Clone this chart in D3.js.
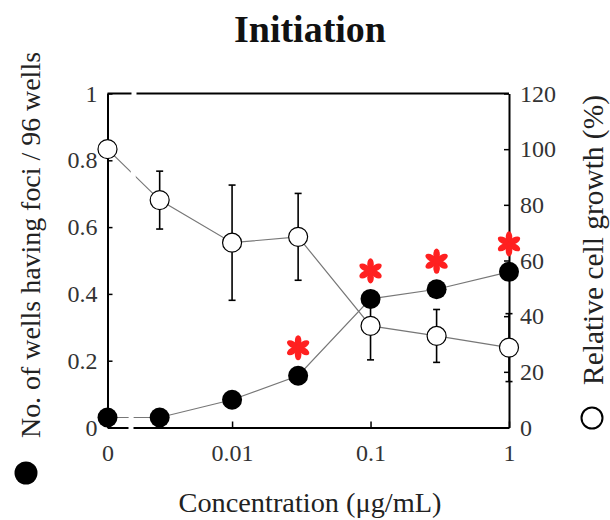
<!DOCTYPE html>
<html>
<head>
<meta charset="utf-8">
<script src="https://cdn.jsdelivr.net/npm/d3@7"></script>
<style>
  html, body { margin: 0; padding: 0; background: #fff; }
  svg { display: block; }
  text { font-family: "Liberation Serif", "Times New Roman", serif; }
</style>
</head>
<body>
<svg id="chart" width="610" height="520"></svg>
<script>
// ---- data ----
const concentrations = [0, 0.003, 0.01, 0.03, 0.1, 0.3, 1];
const fociFraction   = [0.03, 0.03, 0.083, 0.155, 0.385, 0.414, 0.466];
const cellGrowth     = [100, 81.7, 66.4, 68.5, 36.5, 32.9, 28.7];
const growthError    = [0, 10.4, 20.7, 15.6, 12.2, 9.5, 12.2];
const significant    = [false, false, false, true, true, true, true];
const leftTicks      = [0, 0.2, 0.4, 0.6, 0.8, 1];
const leftTickLabels = ["0", "0.2", "0.4", "0.6", "0.8", "1"];
const rightTicks     = [0, 20, 40, 60, 80, 100, 120];
const xTicks         = [0, 0.01, 0.1, 1];
const xTickLabels    = ["0", "0.01", "0.1", "1"];

// ---- layout ----
const L = 107.5, R = 509, T = 93.5, B = 427.5;
const zeroProxy = 0.00126;
const svg = d3.select("#chart");

const x = d3.scaleLog().domain([zeroProxy, 1]).range([L, R]);
const xp = c => x(c === 0 ? zeroProxy : c);
const yL = d3.scaleLinear().domain([0, 1]).range([B, T]);
const yR = d3.scaleLinear().domain([0, 120]).range([B, T]);

// title
svg.append("text").attr("x", 310).attr("y", 42).attr("text-anchor", "middle")
  .attr("font-size", 38).attr("font-weight", "bold").attr("fill", "#111").text("Initiation");

// top border
svg.append("line").attr("x1", L).attr("x2", R).attr("y1", T).attr("y2", T)
  .attr("stroke", "#000").attr("stroke-width", 2);

// axes
const axL = d3.axisLeft(yL).tickValues(leftTicks).tickFormat((d, i) => leftTickLabels[i])
  .tickSizeInner(-5).tickSizeOuter(0).tickPadding(10);
const axR = d3.axisRight(yR).tickValues(rightTicks).tickFormat(d => String(d))
  .tickSizeInner(-5).tickSizeOuter(0).tickPadding(11);
const axB = d3.axisBottom(x).tickValues(xTicks.map(v => v === 0 ? zeroProxy : v))
  .tickFormat((d, i) => xTickLabels[i]).tickSizeInner(-6).tickSizeOuter(0).tickPadding(16);

function styleAxis(g) {
  g.select(".domain").attr("stroke", "#000").attr("stroke-width", 2);
  g.selectAll(".tick line").attr("stroke", "#000").attr("stroke-width", 1.5);
  g.selectAll(".tick text").attr("font-size", 24).attr("fill", "#333");
}
svg.append("g").attr("transform", `translate(${L},0)`).call(axL).call(styleAxis);
svg.append("g").attr("transform", `translate(${R},0)`).call(axR).call(styleAxis);
svg.append("g").attr("transform", `translate(0,${B})`).call(axB).call(styleAxis);

// data rows
const rows = concentrations.map((c, i) => ({
  c, foci: fociFraction[i], growth: cellGrowth[i], err: growthError[i], sig: significant[i]
}));

// connecting lines
const lineFoci = d3.line().x(d => xp(d.c)).y(d => yL(d.foci));
const lineGrowth = d3.line().x(d => xp(d.c)).y(d => yR(d.growth));
svg.append("path").datum(rows).attr("d", lineGrowth).attr("fill", "none")
  .attr("stroke", "#777").attr("stroke-width", 1.2);
svg.append("path").datum(rows).attr("d", lineFoci).attr("fill", "none")
  .attr("stroke", "#777").attr("stroke-width", 1.2);

// error bars
const eb = svg.append("g").attr("stroke", "#000").attr("stroke-width", 1.6);
rows.filter(d => d.err > 0).forEach(d => {
  const cx = xp(d.c), y1 = yR(d.growth + d.err), y2 = yR(d.growth - d.err);
  eb.append("line").attr("x1", cx).attr("x2", cx).attr("y1", y1).attr("y2", y2);
  eb.append("line").attr("x1", cx - 3.5).attr("x2", cx + 3.5).attr("y1", y1).attr("y2", y1);
  eb.append("line").attr("x1", cx - 3.5).attr("x2", cx + 3.5).attr("y1", y2).attr("y2", y2);
});

// axis break
svg.append("polygon")
  .attr("points", `${131.5},${T - 3} ${136.5},${T - 3} ${133.5},${B + 3} ${128.5},${B + 3}`)
  .attr("fill", "#fff");

// markers
svg.append("g").selectAll("circle").data(rows).join("circle")
  .attr("cx", d => xp(d.c)).attr("cy", d => yR(d.growth)).attr("r", 9.5)
  .attr("fill", "#fff").attr("stroke", "#000").attr("stroke-width", 1.2);
svg.append("g").selectAll("circle").data(rows).join("circle")
  .attr("cx", d => xp(d.c)).attr("cy", d => yL(d.foci)).attr("r", 10)
  .attr("fill", "#000");

// asterisks
const stars = svg.append("g").attr("fill", "#ff2020");
rows.filter(d => d.sig).forEach(d => {
  const g = stars.append("g").attr("transform", `translate(${xp(d.c)},${yL(d.foci) - 28})`);
  for (let k = 0; k < 6; k++) {
    g.append("ellipse").attr("cx", 0).attr("cy", -6.8).attr("rx", 3.3).attr("ry", 5.8)
      .attr("transform", `rotate(${k * 60})`);
  }
  g.append("circle").attr("r", 2.2);
});

// fit a text's font size so its natural length equals the target
function fit(sel, base, target) {
  sel.attr("font-size", base);
  const len = sel.node().getComputedTextLength();
  if (len > 0) sel.attr("font-size", (base * target / len).toFixed(2));
  return sel;
}

// axis titles
fit(svg.append("text").attr("transform", "translate(40,245) rotate(-90)")
  .attr("text-anchor", "middle").attr("fill", "#222")
  .text("No. of wells having foci / 96 wells"), 29, 386);
svg.append("circle").attr("cx", 26).attr("cy", 473).attr("r", 11.5).attr("fill", "#000");

fit(svg.append("text").attr("transform", "translate(603,240) rotate(-90)")
  .attr("text-anchor", "middle").attr("fill", "#222")
  .text("Relative cell growth (%)"), 28, 290);
svg.append("circle").attr("cx", 592).attr("cy", 418).attr("r", 10.5)
  .attr("fill", "#fff").attr("stroke", "#000").attr("stroke-width", 2);

fit(svg.append("text").attr("x", 310).attr("y", 512).attr("text-anchor", "middle")
  .attr("fill", "#222").text("Concentration (μg/mL)"), 28, 263);
</script>
</body>
</html>
